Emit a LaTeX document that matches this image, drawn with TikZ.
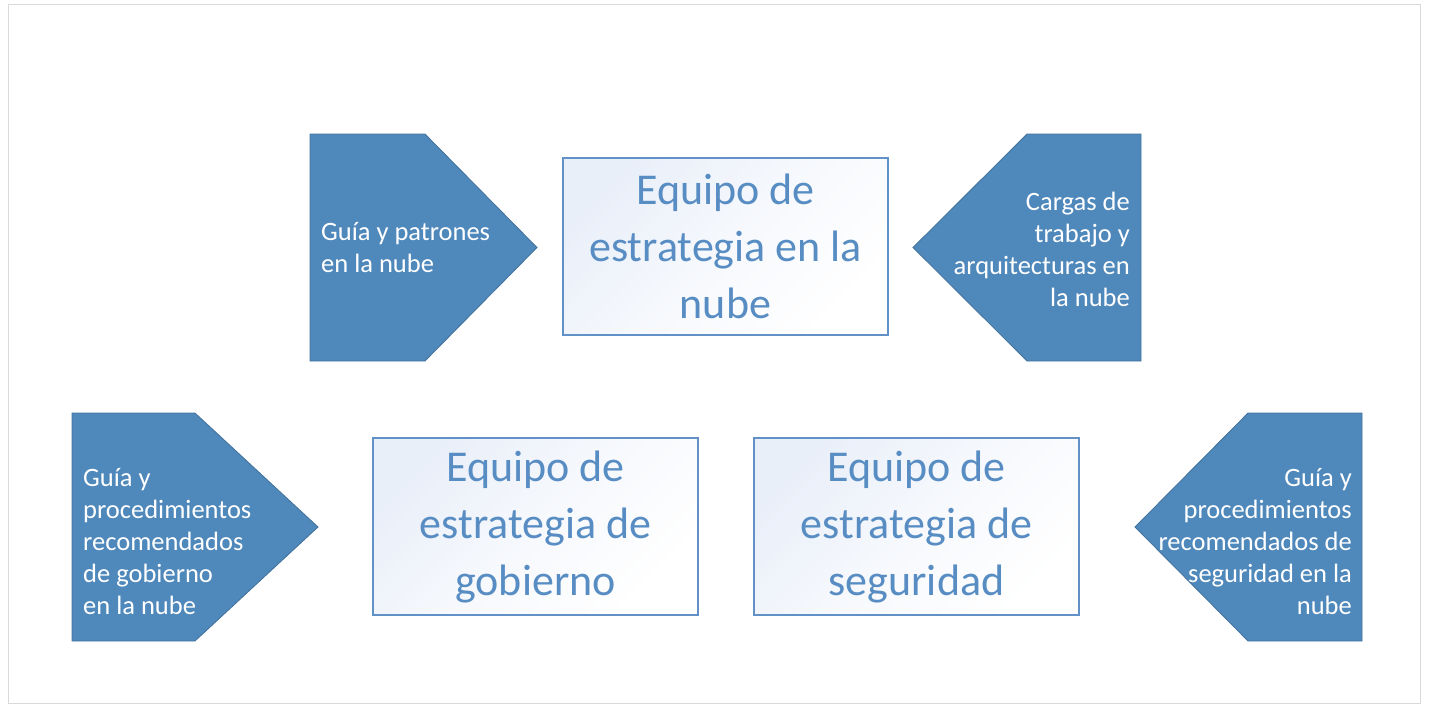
\documentclass[tikz,border=0pt]{standalone}
\usepackage{fontspec}
\setmainfont{Carlito}
\definecolor{arrowblue}{RGB}{79,136,187}
\definecolor{arrowedge}{RGB}{65,113,156}
\definecolor{boxedge}{RGB}{98,145,199}
\definecolor{boxtext}{RGB}{88,141,195}
\definecolor{boxtint}{RGB}{233,239,249}
\definecolor{framegray}{RGB}{217,217,217}
\begin{document}
\begin{tikzpicture}[
  x=1pt, y=-1pt,
  arrowshape/.style={fill=arrowblue, draw=arrowedge, line width=0.8pt, line join=miter},
  teambox/.style={draw=boxedge, line width=1.3pt, top color=boxtint, bottom color=white,
    middle color=white!60!boxtint, shading angle=45,
    minimum width=325, minimum height=177, inner sep=0pt, align=center,
    text=boxtext, font=\fontsize{44}{57}\selectfont},
  notetext/.style={text=white, inner sep=0pt, font=\fontsize{26.5}{32}\selectfont}
]
  \useasboundingbox (0,0) rectangle (1430,718);
  \draw[framegray, line width=1pt] (8,4) rectangle (1420,703);

  % top row
  \filldraw[arrowshape] (310,134) -- (425,134) -- (537,247.5) -- (425,361) -- (310,361) -- cycle;
  \node[notetext, anchor=west, align=left] (guia) at (321,248)
    {Guía y patrones\\en la nube};
  \node[teambox] (nube) at (725.5,246.5) {Equipo de\\estrategia en la\\nube};
  \filldraw[arrowshape] (1141,134) -- (1027,134) -- (913,247.5) -- (1027,361) -- (1141,361) -- cycle;
  \node[notetext, anchor=east, align=right] (cargas) at (1130,249)
    {Cargas de\\trabajo y\\arquitecturas en\\la nube};

  % bottom row
  \filldraw[arrowshape] (72,413) -- (195,413) -- (318,527) -- (195,641) -- (72,641) -- cycle;
  \node[notetext, anchor=west, align=left] (gobguia) at (83,542)
    {Guía y\\procedimientos\\recomendados\\de gobierno\\en la nube};
  \node[teambox] (gobierno) at (535.5,526.5) {Equipo de\\estrategia de\\gobierno};
  \node[teambox] (seguridad) at (916.5,526.5) {Equipo de\\estrategia de\\seguridad};
  \filldraw[arrowshape] (1362,413) -- (1248,413) -- (1135,527) -- (1248,641) -- (1362,641) -- cycle;
  \node[notetext, anchor=east, align=right] (segguia) at (1352,542)
    {Guía y\\procedimientos\\recomendados de\\seguridad en la\\nube};
\end{tikzpicture}
\end{document}
